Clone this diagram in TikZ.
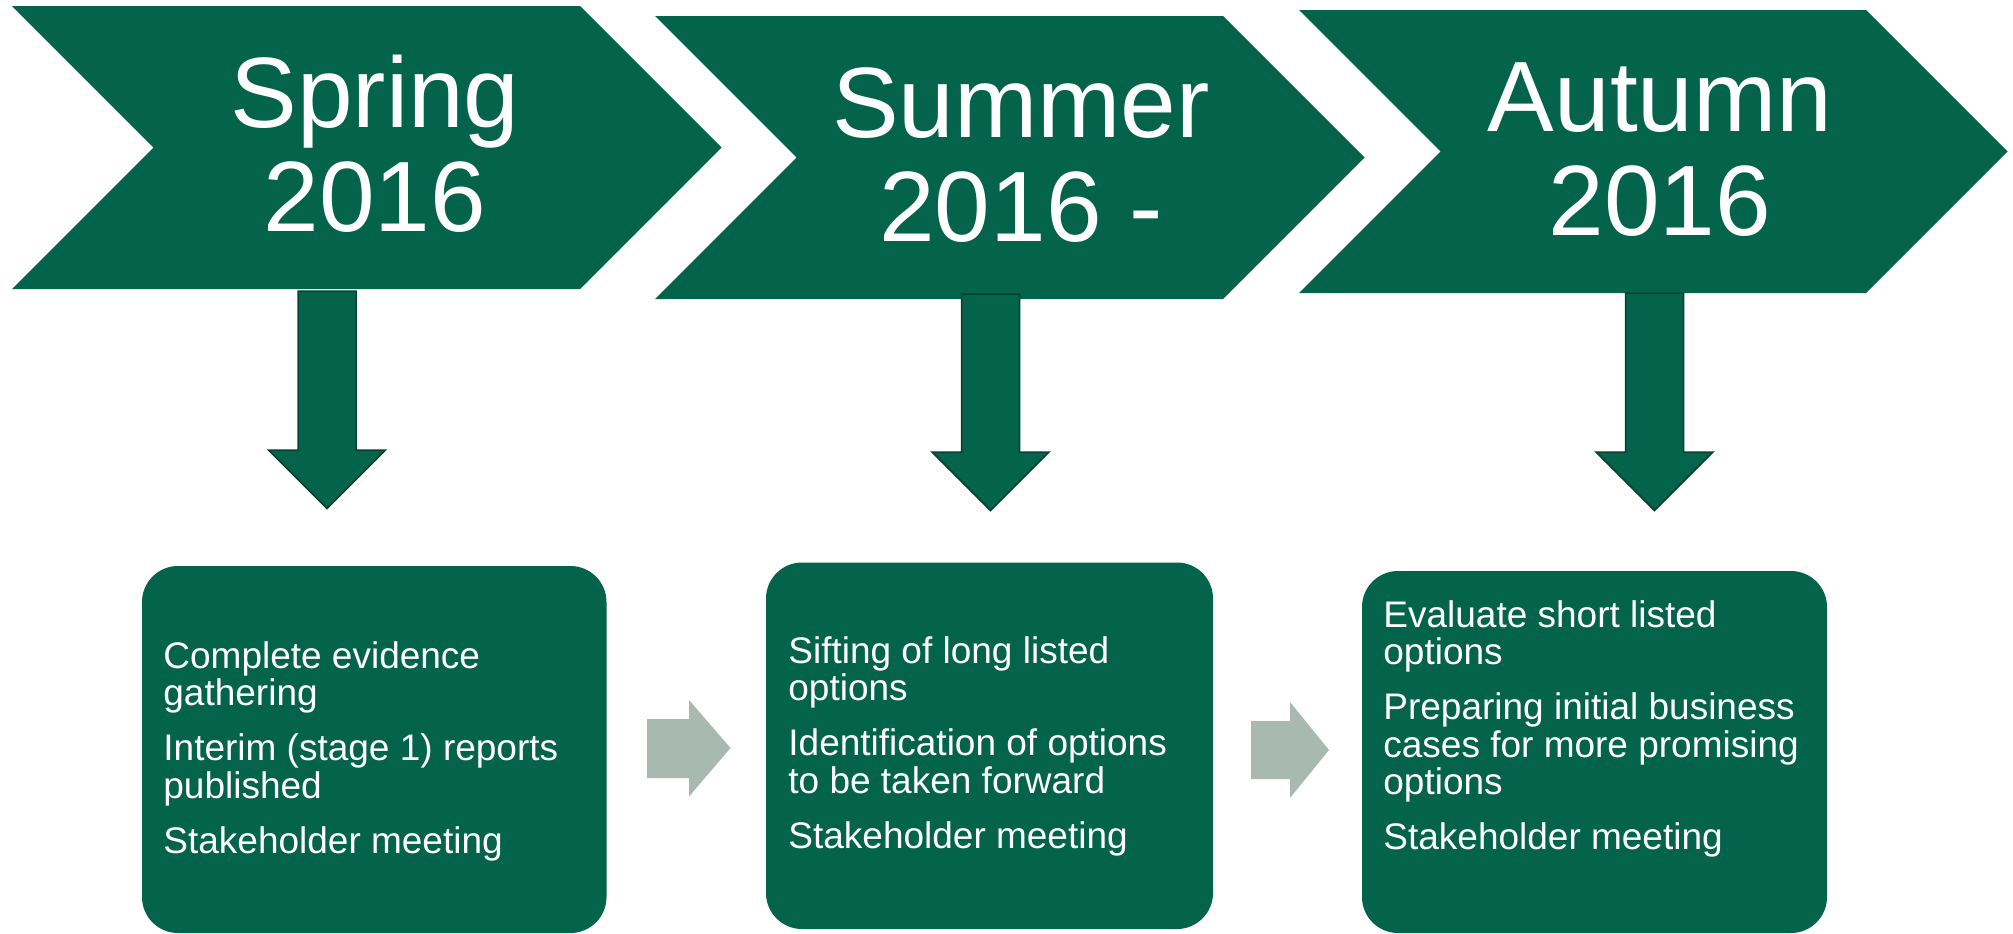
\documentclass[tikz,border=0pt]{standalone}
\usepackage{fontspec}
\setmainfont{Liberation Sans}
\definecolor{sgreen}{RGB}{3,99,75}
\definecolor{sgreenedge}{RGB}{8,64,48}
\definecolor{sgrey}{RGB}{168,185,178}
\newcommand\titlestrut{\rule{0pt}{40pt}}
\newcommand\cardstrut{\rule{0pt}{15pt}}
\begin{document}
\begin{tikzpicture}[x=0.5pt,y=-0.5pt,
  phase/.style={fill=sgreen},
  downarrow/.style={fill=sgreen, draw=sgreenedge, line width=0.75pt},
  flowarrow/.style={fill=sgrey},
  stepcard/.style={fill=sgreen, rounded corners=18pt},
  phasetitle/.style={text=white, font=\fontsize{50}{52}\selectfont, align=center, inner sep=0pt, anchor=north},
  cardtext/.style={text=white, font=\fontsize{18.5}{18.75}\selectfont, align=left, inner sep=0pt, anchor=north west},
]
\useasboundingbox (0,0) rectangle (2013,933);

% phase chevrons
\fill[phase] (12,6) -- (580,6) -- (721.5,147.5) -- (580,289) -- (12,289) -- (153.5,147.5) -- cycle;
\fill[phase] (655,16) -- (1223,16) -- (1364.5,157.5) -- (1223,299) -- (655,299) -- (796.5,157.5) -- cycle;
\fill[phase] (1299,10) -- (1866,10) -- (2007.5,151.5) -- (1866,293) -- (1299,293) -- (1440.5,151.5) -- cycle;

\node[phasetitle] (spring) at (375,47) {\titlestrut Spring\\2016};
\node[phasetitle] (summer) at (1021,57) {\titlestrut Summer\\2016 -};
\node[phasetitle] (autumn) at (1660,51) {\titlestrut Autumn\\2016};

% downward block arrows
\draw[downarrow] (298,291) -- (356,291) -- (356,450) -- (385.5,450) -- (327,508.5) -- (268.5,450) -- (298,450) -- cycle;
\draw[downarrow] (961.5,294) -- (1019.5,294) -- (1019.5,452) -- (1049,452) -- (990.5,510.5) -- (932,452) -- (961.5,452) -- cycle;
\draw[downarrow] (1625.5,293) -- (1683.5,293) -- (1683.5,452) -- (1713,452) -- (1654.5,510.5) -- (1596,452) -- (1625.5,452) -- cycle;

% task cards
\fill[stepcard] (142,566) rectangle (606.5,933);
\fill[stepcard] (766,562.5) rectangle (1213,929);
\fill[stepcard] (1362,571) rectangle (1827,933);

\node[cardtext] (spring-tasks) at (163,638) {\cardstrut Complete evidence\\gathering\\[8.75pt]Interim (stage 1) reports\\published\\[8.75pt]Stakeholder meeting};
\node[cardtext] (summer-tasks) at (788,633) {\cardstrut Sifting of long listed\\options\\[8.75pt]Identification of options\\to be taken forward\\[8.75pt]Stakeholder meeting};
\node[cardtext] (autumn-tasks) at (1383,597) {\cardstrut Evaluate short listed\\options\\[8.75pt]Preparing initial business\\cases for more promising\\options\\[8.75pt]Stakeholder meeting};

% flow arrows between cards
\fill[flowarrow] (647,719) -- (689,719) -- (689,700) -- (730.5,748) -- (689,796.5) -- (689,778) -- (647,778) -- cycle;
\fill[flowarrow] (1251,721) -- (1290,721) -- (1290,702) -- (1329,750) -- (1290,798) -- (1290,779) -- (1251,779) -- cycle;
\end{tikzpicture}
\end{document}
